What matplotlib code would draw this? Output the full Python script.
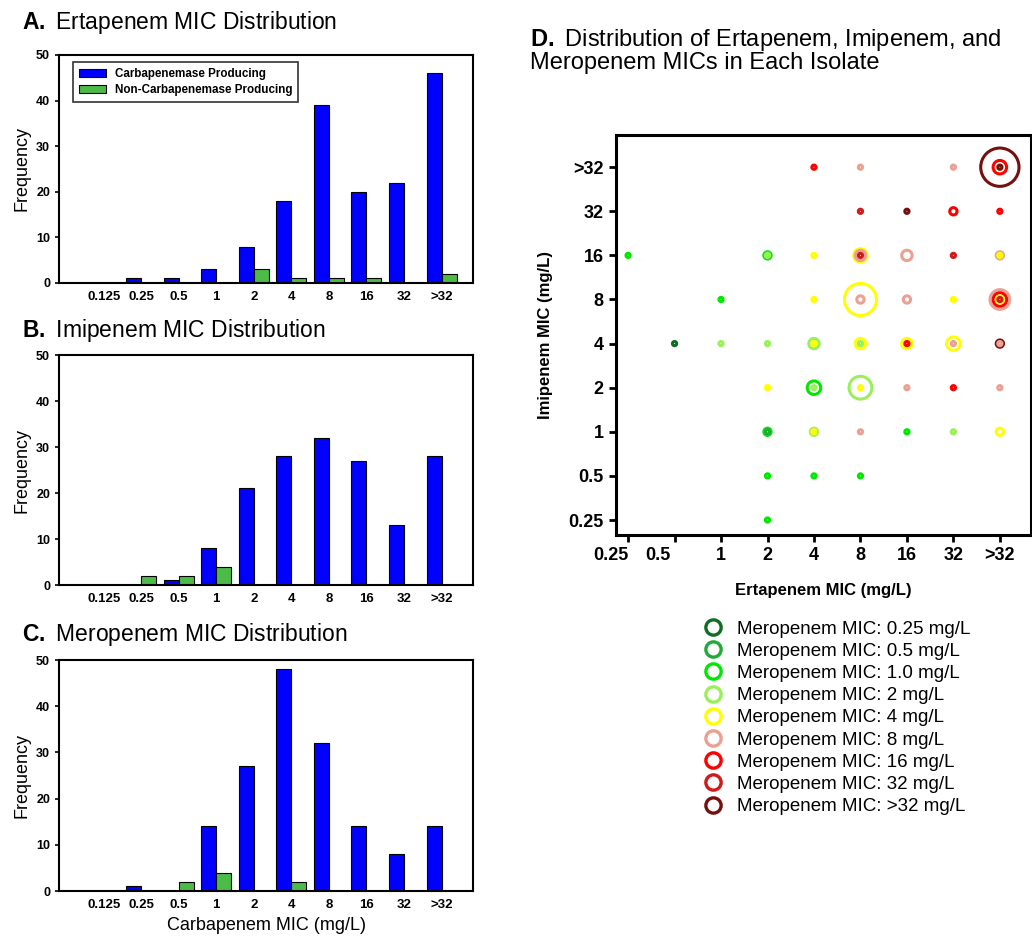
import numpy as np
import matplotlib
matplotlib.use("Agg")
from matplotlib import pyplot as plt
from matplotlib.lines import Line2D
from matplotlib.transforms import ScaledTranslation

plt.rcParams["font.family"] = ["Liberation Sans", "DejaVu Sans"]
plt.rcParams["mathtext.fontset"] = "custom"
plt.rcParams["mathtext.rm"] = "Liberation Sans"
plt.rcParams["mathtext.bf"] = "Liberation Sans:bold"

# --- histogram data (panels A-C) ---
mic_labels = ["0.125", "0.25", "0.5", "1", "2", "4", "8", "16", "32", ">32"]
erta_cp = [0, 1, 1, 3, 8, 18, 39, 20, 22, 46]
erta_ncp = [0, 0, 0, 0, 3, 1, 1, 1, 0, 2]
imi_cp = [0, 0, 1, 8, 21, 28, 32, 27, 13, 28]
imi_ncp = [0, 2, 2, 4, 0, 0, 0, 0, 0, 0]
mero_cp = [0, 1, 0, 14, 27, 48, 32, 14, 8, 14]
mero_ncp = [0, 0, 2, 4, 0, 2, 0, 0, 0, 0]

# --- per-isolate bubble data (panel D) ---
grid_labels = ["0.25", "0.5", "1", "2", "4", "8", "16", "32", ">32"]
mero_levels = ["0.25", "0.5", "1.0", "2", "4", "8", "16", "32", ">32"]
mero_colors = ["#0f6e22", "#1faa3a", "#00e800", "#9bef5a", "#ffff00",
               "#e9a193", "#ff0000", "#cf1b1b", "#741010"]
# ertapenem, imipenem, meropenem, number of isolates
pt_erta = [">32", "4", "8", "32", ">32", ">32", ">32",
           "8", "16", "32", ">32",
           "0.25", "2", "2", "4", "8", "8", "8", "16", "32", ">32", ">32",
           "1", "4", "8", "8", "16", "32", ">32", ">32", ">32", ">32",
           "0.5", "1", "2", "4", "4", "8", "8", "16", "16", "32", "32", ">32", ">32",
           "2", "4", "4", "8", "8", "16", "32", ">32",
           "2", "2", "4", "4", "8", "16", "32", ">32",
           "2", "4", "8", "2"]
pt_imi = [">32", ">32", ">32", ">32", ">32", ">32", ">32",
          "32", "32", "32", "32",
          "16", "16", "16", "16", "16", "16", "16", "16", "16", "16", "16",
          "8", "8", "8", "8", "8", "8", "8", "8", "8", "8",
          "4", "4", "4", "4", "4", "4", "4", "4", "4", "4", "4", "4", "4",
          "2", "2", "2", "2", "2", "2", "2", "2",
          "1", "1", "1", "1", "1", "1", "1", "1",
          "0.5", "0.5", "0.5", "0.25"]
pt_mero = [">32", "16", "8", "8", "16", "4", ">32",
           "32", ">32", "16", "16",
           "1.0", "1.0", "2", "4", "4", "8", "32", "8", "32", "8", "4",
           "1.0", "4", "4", "8", "8", "4", "8", "16", "4", "32",
           "0.25", "2", "2", "2", "4", "4", "2", "4", "16", "4", "8", ">32", "8",
           "4", "1.0", "2", "2", "4", "8", "16", "8",
           "1.0", "0.5", "2", "4", "8", "1.0", "2", "4",
           "1.0", "1.0", "1.0", "1.0"]
pt_count = [12, 1, 1, 1, 4, 1, 1,
            1, 1, 2, 1,
            1, 2, 1, 1, 4, 3, 1, 3, 1, 2, 1,
            1, 1, 10, 2, 2, 1, 6, 4, 2, 1,
            1, 1, 1, 3, 1, 3, 1, 3, 1, 4, 1, 2, 1,
            1, 4, 1, 7, 1, 1, 1, 1,
            2, 1, 2, 1, 1, 1, 1, 2,
            1, 1, 1, 1]

fig = plt.figure(figsize=(10.32, 9.43), dpi=100)

# ---------- panels A, B, C ----------
def bar_panel(rect, cp, ncp, title, title_y, xlabel=None):
    ax = fig.add_axes(rect)
    x = np.arange(len(mic_labels))
    w = 0.4
    ax.bar(x - w / 2, cp, w, color="#0000ff", edgecolor="black", linewidth=0.8,
           label="Carbapenemase Producing")
    ax.bar(x + w / 2, ncp, w, color="#4cbb47", edgecolor="black", linewidth=0.8,
           label="Non-Carbapenemase Producing")
    ax.set_xlim(-1.19, 9.84)
    ax.set_ylim(0, 50)
    ax.set_yticks([0, 10, 20, 30, 40, 50])
    ax.set_xticks(x)
    ax.set_xticklabels(mic_labels)
    ax.tick_params(axis="x", length=0, pad=6, labelsize=9.5)
    ax.tick_params(axis="y", length=3, width=1.2, labelsize=9, direction="out")
    for lab in ax.get_xticklabels() + ax.get_yticklabels():
        lab.set_fontweight("bold")
    for sp in ax.spines.values():
        sp.set_linewidth(1.5)
    ax.set_ylabel("Frequency", fontsize=13, labelpad=4)
    if xlabel:
        ax.set_xlabel(xlabel, fontsize=13, labelpad=4)
    fig.text(22 / 1032, 1 - title_y / 943, title, fontsize=16.5,
             va="center", ha="left")
    return ax

axA = bar_panel([0.0572, 0.6999, 0.4012, 0.2418], erta_cp, erta_ncp,
                r"$\bf{A.}$ Ertapenem MIC Distribution", 22)
leg = axA.legend(loc="upper left", bbox_to_anchor=(0.02, 0.995),
                 prop={"weight": "bold", "size": 8.4}, frameon=True, fancybox=False,
                 edgecolor="black", handlelength=2.3, handleheight=0.7,
                 borderpad=0.5, labelspacing=0.35, handletextpad=0.8)
leg.get_frame().set_linewidth(1.2)
bar_panel([0.0572, 0.3796, 0.4012, 0.2439], imi_cp, imi_ncp,
          r"$\bf{B.}$ Imipenem MIC Distribution", 330)
bar_panel([0.0572, 0.0551, 0.4012, 0.245], mero_cp, mero_ncp,
          r"$\bf{C.}$ Meropenem MIC Distribution", 635,
          xlabel="Carbapenem MIC (mg/L)")

# ---------- panel D ----------
axD = fig.add_axes([616 / 1032, 1 - 535 / 943, 415 / 1032, 400 / 943])
xi = np.array([grid_labels.index(v) for v in pt_erta])
yi = np.array([grid_labels.index(v) for v in pt_imi])
ci = [mero_colors[mero_levels.index(v)] for v in pt_mero]
cnt = np.array(pt_count)
# marker radius in pixels grows with the isolate count
r_px = 1.55 * (1 + cnt) - 1.0
s = (2 * r_px * 0.72) ** 2
order = np.argsort(-cnt)
axD.scatter(xi[order], yi[order], s=s[order], facecolors="none",
            edgecolors=[ci[k] for k in order], linewidths=2.2, zorder=3)
axD.set_xlim(-0.26, 8.67)
axD.set_ylim(-0.34, 8.73)
axD.set_xticks(range(len(grid_labels)))
axD.set_xticklabels(grid_labels)
axD.set_yticks(range(len(grid_labels)))
axD.set_yticklabels(grid_labels)
axD.tick_params(length=5, width=2, labelsize=13, direction="out", pad=4)
for lab in axD.get_xticklabels() + axD.get_yticklabels():
    lab.set_fontweight("bold")
# the two smallest ertapenem labels sit a little left of their ticks
for lab in axD.get_xticklabels()[:2]:
    lab.set_transform(lab.get_transform() +
                      ScaledTranslation(-0.17, 0, fig.dpi_scale_trans))
for sp in axD.spines.values():
    sp.set_linewidth(2.2)
axD.set_xlabel("Ertapenem MIC (mg/L)", fontsize=12, fontweight="bold", labelpad=13)
axD.set_ylabel("Imipenem MIC (mg/L)", fontsize=12, fontweight="bold", labelpad=11)
fig.text(530 / 1032, 1 - 40 / 943, r"$\bf{D.}$ Distribution of Ertapenem, Imipenem, and",
         fontsize=17, ha="left", va="center")
fig.text(530 / 1032, 1 - 63 / 943, "Meropenem MICs in Each Isolate",
         fontsize=17, ha="left", va="center")

handles = [Line2D([], [], marker="o", linestyle="none", markersize=11,
                  markerfacecolor="none", markeredgecolor=c, markeredgewidth=2.4)
           for c in mero_colors]
labels = ["Meropenem MIC: %s mg/L" % m for m in mero_levels]
fig.legend(handles, labels, loc="upper left", bbox_to_anchor=(0.673, 0.35),
           frameon=False, fontsize=13.5, labelspacing=0.27, handletextpad=0.65,
           handlelength=1.2, borderaxespad=0)

fig.savefig("out.png", dpi=100)
